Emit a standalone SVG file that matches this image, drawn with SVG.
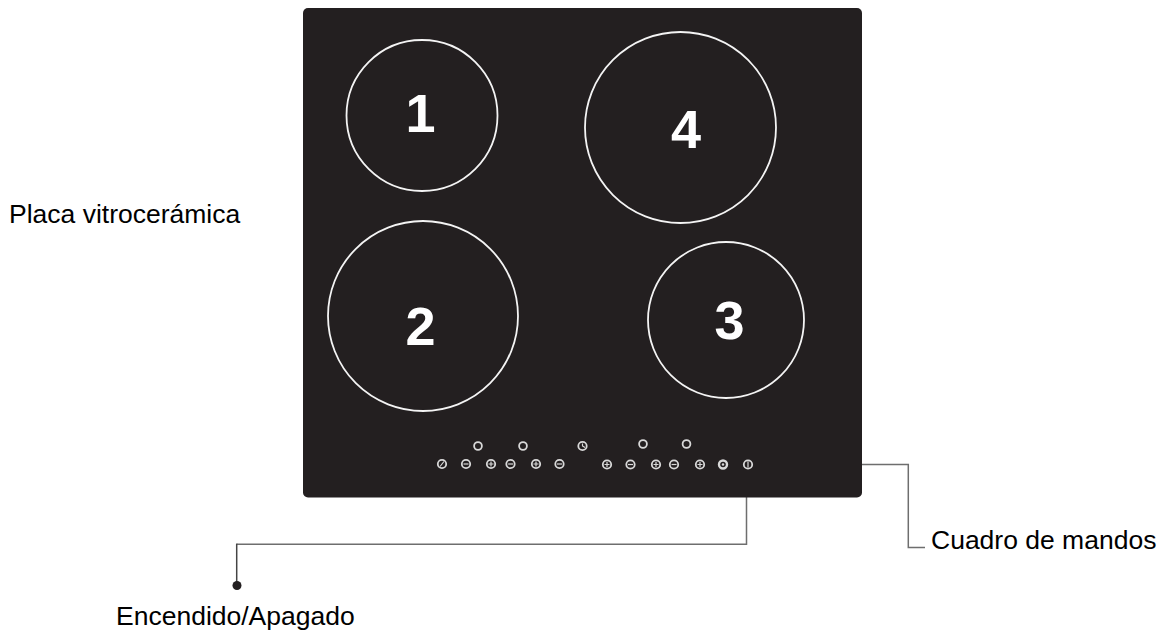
<svg xmlns="http://www.w3.org/2000/svg" width="1166" height="635" viewBox="0 0 1166 635">
<style>
.lbl{font-family:"Liberation Sans",Arial,sans-serif;font-size:26.5px;fill:#000}
.num{font-family:"Liberation Sans",Arial,sans-serif;font-size:54px;font-weight:bold;fill:#fff;text-anchor:middle}
.z{fill:none;stroke:#f4f4f4;stroke-width:1.8}
.k{fill:none;stroke:#d8d8d8;stroke-width:1.8}
.g{stroke:#d8d8d8;stroke-width:1.2;fill:none}
.c{fill:none;stroke:#6e6e6e;stroke-width:1.5}
</style>
<defs>
<circle id="ring" r="3.9" class="k"/>
<g id="minus"><circle r="4.2" class="k"/><path d="M-2.5 0H2.5" class="g"/></g>
<g id="plus"><circle r="4.2" class="k"/><path d="M-2.5 0H2.5M0-2.500V2.500" class="g"/></g>
</defs>
<rect width="1166" height="635" fill="#fff"/>
<g id="connectors">
<path class="c" d="M862 464.500H908.300V547.500H925"/>
<path class="c" d="M746.500 497V544.300H236.700"/>
<path d="M236.700 543.600V585" fill="none" stroke="#444" stroke-width="1.5"/>
<circle cx="237" cy="585.500" r="4.500" fill="#231f20"/>
</g>
<g id="placa">
<rect x="303" y="8" width="559" height="489.500" rx="5" fill="#231f20"/>
</g>
<g id="zona1"><circle class="z" cx="422" cy="115.500" r="75.500"/><text class="num" x="420.500" y="132">1</text></g>
<g id="zona2"><circle class="z" cx="423" cy="316" r="95"/><text class="num" x="420.500" y="345">2</text></g>
<g id="zona3"><circle class="z" cx="726" cy="320" r="78"/><text class="num" x="729.500" y="339">3</text></g>
<g id="zona4"><circle class="z" cx="680.500" cy="127.500" r="95.500"/><text class="num" x="686" y="148">4</text></g>
<g id="cuadro">
<use href="#ring" x="478" y="446"/>
<use href="#ring" x="523" y="446"/>
<g transform="translate(582.500 446)"><circle r="4.200" class="k"/><path d="M0-2.500V0L2.500 1.500" class="g"/></g>
<use href="#ring" x="643" y="444"/>
<use href="#ring" x="686.500" y="444"/>
<g transform="translate(442 464)"><circle r="4.200" class="k"/><path d="M-2 2.500L2-2.500" class="g"/></g>
<use href="#minus" x="466" y="464"/>
<use href="#plus" x="491" y="464"/>
<use href="#minus" x="510.500" y="464"/>
<use href="#plus" x="536" y="464"/>
<use href="#minus" x="559.500" y="464"/>
<use href="#plus" x="607" y="464.500"/>
<use href="#minus" x="630.500" y="464.500"/>
<use href="#plus" x="656" y="464.500"/>
<use href="#minus" x="674" y="464.500"/>
<use href="#plus" x="700" y="464.500"/>
<g transform="translate(723 464.500)"><circle r="4" fill="none" stroke="#d8d8d8" stroke-width="2.400"/><circle r="1.200" fill="#d8d8d8"/></g>
<g transform="translate(748 464.500)"><circle r="4.200" class="k"/><path d="M0-3V3" class="g"/></g>
</g>
<text class="lbl" x="9" y="223">Placa vitrocerámica</text>
<text class="lbl" x="931" y="548.500">Cuadro de mandos</text>
<text class="lbl" x="116" y="625">Encendido/Apagado</text>
</svg>
